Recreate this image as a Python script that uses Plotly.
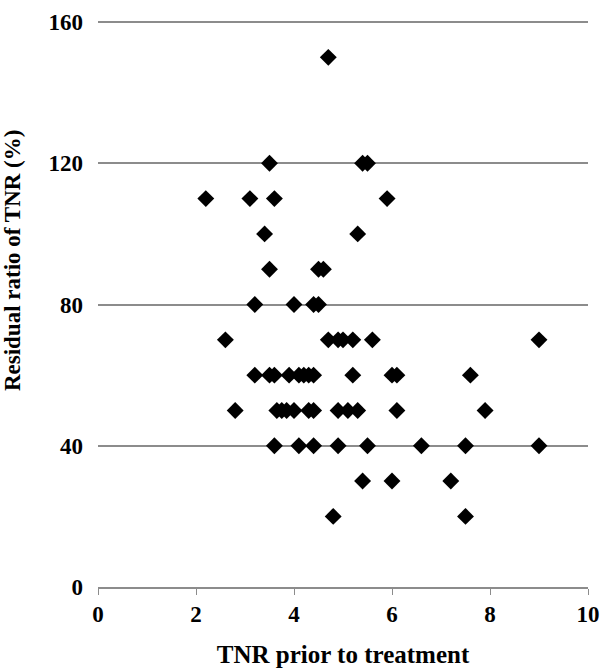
import plotly.graph_objects as go

# TNR before treatment vs residual ratio of TNR (%)
tnr_prior = [
    4.7,
    3.5, 5.4, 5.5,
    2.2, 3.1, 3.6, 5.9,
    3.4, 5.3,
    3.5, 4.5, 4.6,
    3.2, 4.0, 4.4, 4.5,
    2.6, 4.7, 4.9, 5.0, 5.2, 5.6, 9.0,
    3.2, 3.5, 3.6, 3.9, 4.1, 4.2, 4.3, 4.4, 5.2, 6.0, 6.1, 7.6,
    2.8, 3.65, 3.75, 3.85, 4.0, 4.3, 4.4, 4.9, 5.1, 5.3, 6.1, 7.9,
    3.6, 4.1, 4.4, 4.9, 5.5, 6.6, 7.5, 9.0,
    5.4, 6.0, 7.2,
    4.8, 7.5,
]
residual_ratio = [
    150,
    120, 120, 120,
    110, 110, 110, 110,
    100, 100,
    90, 90, 90,
    80, 80, 80, 80,
    70, 70, 70, 70, 70, 70, 70,
    60, 60, 60, 60, 60, 60, 60, 60, 60, 60, 60, 60,
    50, 50, 50, 50, 50, 50, 50, 50, 50, 50, 50, 50,
    40, 40, 40, 40, 40, 40, 40, 40,
    30, 30, 30,
    20, 20,
]

font_family = "Times New Roman, Liberation Serif, serif"
line_grey = "#8c8c8c"

fig = go.Figure(go.Scatter(
    x=tnr_prior, y=residual_ratio,
    mode="markers",
    marker=dict(symbol="diamond", size=13, color="black"),
    showlegend=False,
))

fig.update_layout(
    width=600, height=668,
    margin=dict(l=98, r=12, t=21, b=81),
    plot_bgcolor="white", paper_bgcolor="white",
    font=dict(family=font_family, color="black", size=23),
    xaxis=dict(
        range=[0, 10], dtick=2, showgrid=False, zeroline=False, automargin=False,
        showline=True, linecolor=line_grey, linewidth=1.5,
        ticks="outside", ticklen=6, tickcolor=line_grey,
        tickfont=dict(size=23, family=font_family, weight="bold"),
        title=dict(text="<b>TNR prior to treatment</b>", font=dict(size=25), standoff=20),
    ),
    yaxis=dict(
        range=[0, 160.3], tickvals=[0, 40, 80, 120, 160], zeroline=False, showline=False,
        showgrid=True, gridcolor=line_grey, gridwidth=1.5, automargin=False,
        ticklabelstandoff=14,
        tickfont=dict(size=23, family=font_family, weight="bold"),
    ),
    annotations=[dict(
        text="<b>Residual ratio of TNR (%)</b>",
        xref="paper", yref="paper", x=-0.173, y=0.578,
        xanchor="center", yanchor="middle",
        textangle=-90, showarrow=False, font=dict(size=23),
    )],
)

# drop the default 8px page margin so the figure fills the window
fig.write_html(
    "out.html",
    config={"displayModeBar": False},
    post_script="document.body.style.margin='0px';",
)
